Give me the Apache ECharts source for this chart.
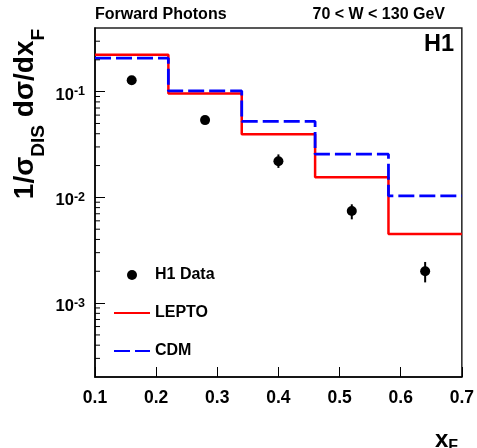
<!DOCTYPE html>
<html>
<head>
<meta charset="utf-8">
<script src="https://cdn.jsdelivr.net/npm/echarts@6/dist/echarts.min.js"></script>
<style>
  html, body { margin: 0; padding: 0; background: #fff; }
  #chart { width: 477px; height: 448px; }
</style>
</head>
<body>
<div id="chart"></div>
<script>
// ---- data ----
const binEdges = [0.1, 0.22, 0.34, 0.46, 0.58, 0.7];
const leptoValues = [0.223, 0.0958, 0.0395, 0.0155, 0.00451];
const cdmValues = [0.2075, 0.1015, 0.0523, 0.0256, 0.01035];

const xCenters = [0.16, 0.28, 0.40, 0.52, 0.64];
const h1Values = [0.128, 0.0538, 0.022, 0.00743, 0.0020];
const h1ErrLow = [0.123, 0.0515, 0.019, 0.0062, 0.00157];
const h1ErrHigh = [0.133, 0.0562, 0.0255, 0.0086, 0.00245];

const xTickLabels = ['0.1', '0.2', '0.3', '0.4', '0.5', '0.6', '0.7'];
const yMinorTicks = [3e-4, 4e-4, 5e-4, 6e-4, 7e-4, 8e-4, 9e-4,
                     2e-3, 3e-3, 4e-3, 5e-3, 6e-3, 7e-3, 8e-3, 9e-3,
                     2e-2, 3e-2, 4e-2, 5e-2, 6e-2, 7e-2, 8e-2, 9e-2,
                     2e-1, 3e-1];

const FONT = '"Liberation Sans", Arial, Helvetica, sans-serif';

function histData(values) {
  return binEdges.map((e, i) => [e, values[Math.min(i, values.length - 1)]]);
}

const chart = echarts.init(document.getElementById('chart'), null, { renderer: 'canvas' });

const option = {
  animation: false,
  backgroundColor: '#fff',
  grid: {
    left: 95, right: 15, top: 28, bottom: 71,
    show: true, borderColor: '#222', borderWidth: 1.5, backgroundColor: 'transparent'
  },
  xAxis: {
    type: 'value', min: 0.1, max: 0.7, interval: 0.1,
    axisLine: { show: true, onZero: false, lineStyle: { color: '#000', width: 1.5 } },
    axisTick: { show: true, inside: true, length: 10, lineStyle: { color: '#000', width: 1 } },
    splitLine: { show: false },
    axisLabel: {
      margin: 12, color: '#000', fontSize: 17.5, fontWeight: 'bold', fontFamily: FONT,
      formatter: function (v) {
        const idx = Math.round((v - 0.1) / 0.1);
        return xTickLabels[idx] !== undefined ? xTickLabels[idx] : '';
      }
    }
  },
  yAxis: {
    type: 'log', logBase: 10, min: 2e-4, max: 0.4,
    axisLine: { show: true, lineStyle: { color: '#000', width: 1.5 } },
    axisTick: { show: true, inside: true, length: 10, lineStyle: { color: '#000', width: 1 } },
    splitLine: { show: false },
    axisLabel: {
      margin: 10, color: '#000',
      showMinLabel: false, showMaxLabel: false,
      formatter: function (v) {
        const e = Math.log10(v);
        const r = Math.round(e);
        if (Math.abs(e - r) > 1e-6) return '';
        return '{b|10}{s|' + r + '}';
      },
      rich: {
        b: { fontSize: 16.5, fontWeight: 'bold', fontFamily: FONT, color: '#000', verticalAlign: 'bottom', lineHeight: 24 },
        s: { fontSize: 12.5, fontWeight: 'bold', fontFamily: FONT, color: '#000', verticalAlign: 'middle' }
      }
    }
  },
  legend: {
    orient: 'vertical', left: 113, top: 267, padding: 0,
    itemWidth: 36, itemHeight: 10, itemGap: 22,
    textStyle: { fontSize: 16, fontWeight: 'bold', fontFamily: FONT, color: '#000' },
    data: [
      { name: 'H1 Data', icon: 'circle', itemStyle: { color: '#000', opacity: 1 } },
      { name: 'LEPTO', itemStyle: { opacity: 0 } },
      { name: 'CDM', itemStyle: { opacity: 0 } }
    ]
  },
  graphic: [
    {
      type: 'text', left: 95, top: 6.5,
      style: { text: 'Forward Photons', fontSize: 16, fontWeight: 'bold', fontFamily: FONT, fill: '#000' }
    },
    {
      type: 'text', right: 32, top: 6.5,
      style: { text: '70 < W < 130 GeV', fontSize: 16, fontWeight: 'bold', fontFamily: FONT, fill: '#000' }
    },
    {
      type: 'text', right: 23, top: 32.5,
      style: { text: 'H1', fontSize: 23.5, fontWeight: 'bold', fontFamily: FONT, fill: '#000' }
    },
    {
      type: 'text', x: 435, y: 428,
      style: {
        text: '{m|x}{s|F}', align: 'left', verticalAlign: 'top',
        rich: {
          m: { fontSize: 24, fontWeight: 'bold', fontFamily: FONT, fill: '#000', verticalAlign: 'top' },
          s: { fontSize: 16, fontWeight: 'bold', fontFamily: FONT, fill: '#000', verticalAlign: 'bottom', lineHeight: 27 }
        }
      }
    },
    {
      type: 'text', x: 11.2, y: 114, rotation: Math.PI / 2,
      style: {
        text: '{m|1/σ}{s|DIS}{m| dσ/dx}{s|F}', align: 'center', verticalAlign: 'top',
        rich: {
          m: { fontSize: 28, fontWeight: 'bold', fontFamily: FONT, fill: '#000', verticalAlign: 'top' },
          s: { fontSize: 19, fontWeight: 'bold', fontFamily: FONT, fill: '#000', verticalAlign: 'bottom', lineHeight: 36.7 }
        }
      }
    }
  ],
  series: [
    {
      name: 'LEPTO', type: 'line', step: 'end', symbol: 'none', z: 2,
      data: histData(leptoValues),
      lineStyle: { color: '#ff0000', width: 2.5 },
      itemStyle: { color: '#ff0000' }
    },
    {
      name: 'CDM', type: 'line', step: 'end', symbol: 'none', z: 3,
      data: histData(cdmValues),
      lineStyle: { color: '#0000ff', width: 2.8, type: [16, 5] },
      itemStyle: { color: '#0000ff' }
    },
    {
      name: 'errors', type: 'custom', z: 4, silent: true,
      data: xCenters.map((x, i) => [x, h1ErrLow[i], h1ErrHigh[i]]),
      encode: { x: 0, y: [1, 2] },
      renderItem: function (params, api) {
        const p1 = api.coord([api.value(0), api.value(1)]);
        const p2 = api.coord([api.value(0), api.value(2)]);
        return { type: 'line', shape: { x1: p1[0], y1: p1[1], x2: p2[0], y2: p2[1] },
                 style: { stroke: '#000', lineWidth: 2 } };
      }
    },
    {
      name: 'H1 Data', type: 'scatter', symbol: 'circle', symbolSize: 10, z: 5,
      data: xCenters.map((x, i) => [x, h1Values[i]]),
      itemStyle: { color: '#000', opacity: 1 }
    },
    {
      name: 'minorTicks', type: 'custom', z: 6, silent: true,
      data: yMinorTicks.map(v => [0.1, v]),
      encode: { x: 0, y: 1 },
      renderItem: function (params, api) {
        const p = api.coord([api.value(0), api.value(1)]);
        return { type: 'line', shape: { x1: p[0], y1: p[1], x2: p[0] + 5, y2: p[1] },
                 style: { stroke: '#000', lineWidth: 1 } };
      }
    }
  ]
};

chart.setOption(option);
</script>
</body>
</html>
